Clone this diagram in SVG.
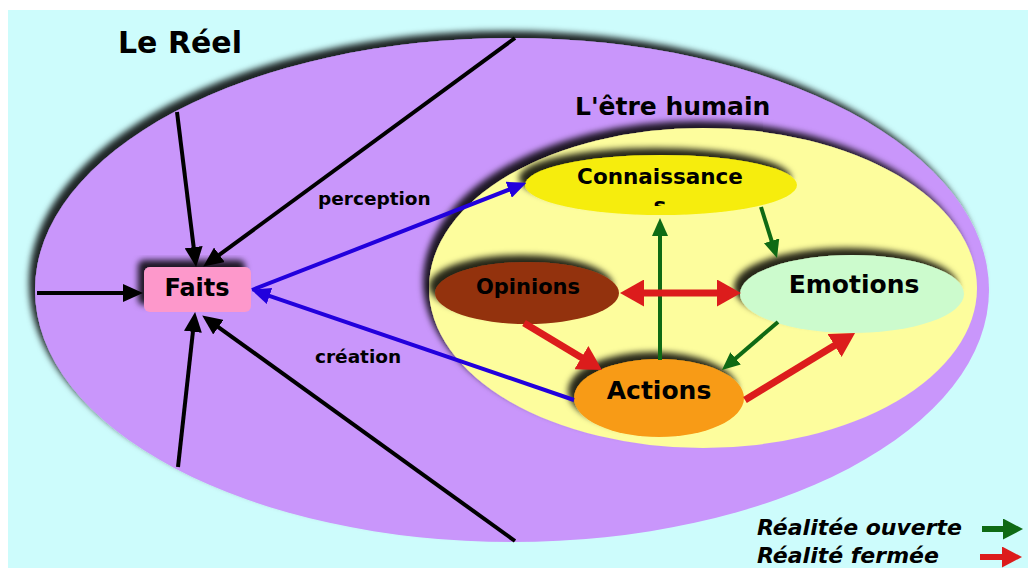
<svg xmlns="http://www.w3.org/2000/svg" width="1028" height="568" viewBox="0 0 1028 568">
  <defs>
    <style>
      .lbl { font-family: "DejaVu Sans", Verdana, sans-serif; font-weight: bold; fill: #000; }
      .leg { font-family: "DejaVu Sans", Verdana, sans-serif; font-weight: bold; font-style: italic; font-size: 22px; fill: #000; }
      .k { stroke: #000; stroke-width: 4; fill: none; }
      .b { stroke: #2200dd; stroke-width: 4; fill: none; }
      .g { stroke: #0f6a14; stroke-width: 4; fill: none; }
      .r { stroke: #dc1c1c; stroke-width: 7; fill: none; }
      .shade { filter: url(#sh); }
    </style>
    <!-- soft dark shadow thrown up and to the left -->
    <filter id="sh" x="-15%" y="-25%" width="130%" height="150%">
      <feGaussianBlur in="SourceAlpha" stdDeviation="3"/>
      <feOffset dx="-6" dy="-7" result="b"/>
      <feFlood flood-color="#000" flood-opacity="0.85"/>
      <feComposite in2="b" operator="in"/>
      <feMerge><feMergeNode/><feMergeNode in="SourceGraphic"/></feMerge>
    </filter>
    <marker id="ak" markerUnits="userSpaceOnUse" markerWidth="20" markerHeight="18" viewBox="0 0 20 18" refX="10" refY="9" orient="auto">
      <path d="M0,0 L20,9 L0,18 z" fill="#000"/>
    </marker>
    <marker id="ab" markerUnits="userSpaceOnUse" markerWidth="19" markerHeight="17" viewBox="0 0 19 17" refX="9.5" refY="8.5" orient="auto">
      <path d="M0,0 L19,8.5 L0,17 z" fill="#2200dd"/>
    </marker>
    <marker id="ag" markerUnits="userSpaceOnUse" markerWidth="18" markerHeight="16" viewBox="0 0 18 16" refX="9" refY="8" orient="auto">
      <path d="M0,0 L18,8 L0,16 z" fill="#0f6a14"/>
    </marker>
    <marker id="ar" markerUnits="userSpaceOnUse" markerWidth="24" markerHeight="27" viewBox="0 0 24 27" refX="12" refY="13.5" orient="auto-start-reverse">
      <path d="M0,0 L24,13.5 L0,27 z" fill="#dc1c1c"/>
    </marker>
    <marker id="lg" markerUnits="userSpaceOnUse" markerWidth="20" markerHeight="21" viewBox="0 0 20 21" refX="10" refY="10.5" orient="auto">
      <path d="M0,0 L20,10.5 L0,21 z" fill="#0f6a14"/>
    </marker>
    <marker id="lr" markerUnits="userSpaceOnUse" markerWidth="20" markerHeight="21" viewBox="0 0 20 21" refX="10" refY="10.5" orient="auto">
      <path d="M0,0 L20,10.5 L0,21 z" fill="#dc1c1c"/>
    </marker>
    <clipPath id="cut"><rect x="600" y="190" width="120" height="16"/></clipPath>
  </defs>

  <rect x="8" y="10" width="1020" height="558" fill="#cdfcfc"/>

  <g id="reel">
    <ellipse class="shade" cx="512" cy="290" rx="477" ry="252" fill="#c996fb"/>
    <text class="lbl" x="118" y="53" font-size="30">Le Réel</text>
  </g>

  <g id="etre-humain">
    <ellipse class="shade" cx="703" cy="288" rx="274" ry="160" fill="#fdfd9d"/>
    <text class="lbl" x="575" y="115" font-size="25">L'être humain</text>
  </g>

  <g id="faits">
    <rect class="shade" x="144" y="267" width="107" height="45" rx="6" fill="#fd98cb"/>
    <text class="lbl" x="197" y="296" font-size="24" text-anchor="middle">Faits</text>
  </g>

  <g id="connaissance">
    <ellipse class="shade" cx="661" cy="185" rx="136" ry="30" fill="#f6ed0c"/>
    <text class="lbl" x="660" y="184" font-size="21.5" text-anchor="middle">Connaissance</text>
    <text class="lbl" x="660" y="213" font-size="21.5" text-anchor="middle" clip-path="url(#cut)">s</text>
  </g>

  <g id="opinions">
    <ellipse class="shade" cx="527" cy="293" rx="92" ry="31" fill="#93330e"/>
    <text class="lbl" x="528" y="294" font-size="21" text-anchor="middle">Opinions</text>
  </g>

  <g id="emotions">
    <ellipse class="shade" cx="852" cy="294" rx="112" ry="39" fill="#ccfbcd"/>
    <text class="lbl" x="854" y="293" font-size="25" text-anchor="middle">Emotions</text>
  </g>

  <g id="actions">
    <ellipse class="shade" cx="659" cy="398" rx="85" ry="39" fill="#f89b14"/>
    <text class="lbl" x="659" y="399" font-size="25" text-anchor="middle">Actions</text>
  </g>

  <g id="connectors">
    <!-- from the edge of the real world into Faits -->
    <line class="k" x1="37" y1="293" x2="133" y2="293" marker-end="url(#ak)"/>
    <line class="k" x1="177" y1="112" x2="194.9" y2="257.1" marker-end="url(#ak)"/>
    <line class="k" x1="515" y1="38" x2="211.3" y2="260.7" marker-end="url(#ak)"/>
    <line class="k" x1="178" y1="467" x2="194" y2="321.9" marker-end="url(#ak)"/>
    <line class="k" x1="515" y1="541" x2="210.3" y2="321.3" marker-end="url(#ak)"/>

    <!-- perception / création -->
    <line class="b" x1="252" y1="290" x2="517.6" y2="186.3" marker-end="url(#ab)"/>
    <text class="lbl" x="318" y="205" font-size="18.5">perception</text>
    <line class="b" x1="574" y1="400" x2="260.5" y2="292.9" marker-end="url(#ab)"/>
    <text class="lbl" x="315" y="363" font-size="18.5">création</text>

    <!-- open reality -->
    <line class="g" x1="660" y1="360" x2="660" y2="227" marker-end="url(#ag)"/>
    <line class="g" x1="761" y1="207" x2="774.3" y2="249.4" marker-end="url(#ag)"/>
    <line class="g" x1="778" y1="322" x2="728.8" y2="364.2" marker-end="url(#ag)"/>

    <!-- closed reality -->
    <line class="r" x1="632" y1="293" x2="729" y2="293" marker-start="url(#ar)" marker-end="url(#ar)"/>
    <line class="r" x1="524" y1="323" x2="591.7" y2="363.8" marker-end="url(#ar)"/>
    <line class="r" x1="745" y1="400" x2="844.8" y2="339.2" marker-end="url(#ar)"/>
  </g>

  <g id="legend">
    <text class="leg" x="757" y="535">Réalitée ouverte</text>
    <line x1="982" y1="529" x2="1013" y2="529" stroke="#0f6a14" stroke-width="6" marker-end="url(#lg)"/>
    <text class="leg" x="757" y="563">Réalité fermée</text>
    <line x1="980" y1="557" x2="1012" y2="557" stroke="#dc1c1c" stroke-width="6" marker-end="url(#lr)"/>
  </g>
</svg>
